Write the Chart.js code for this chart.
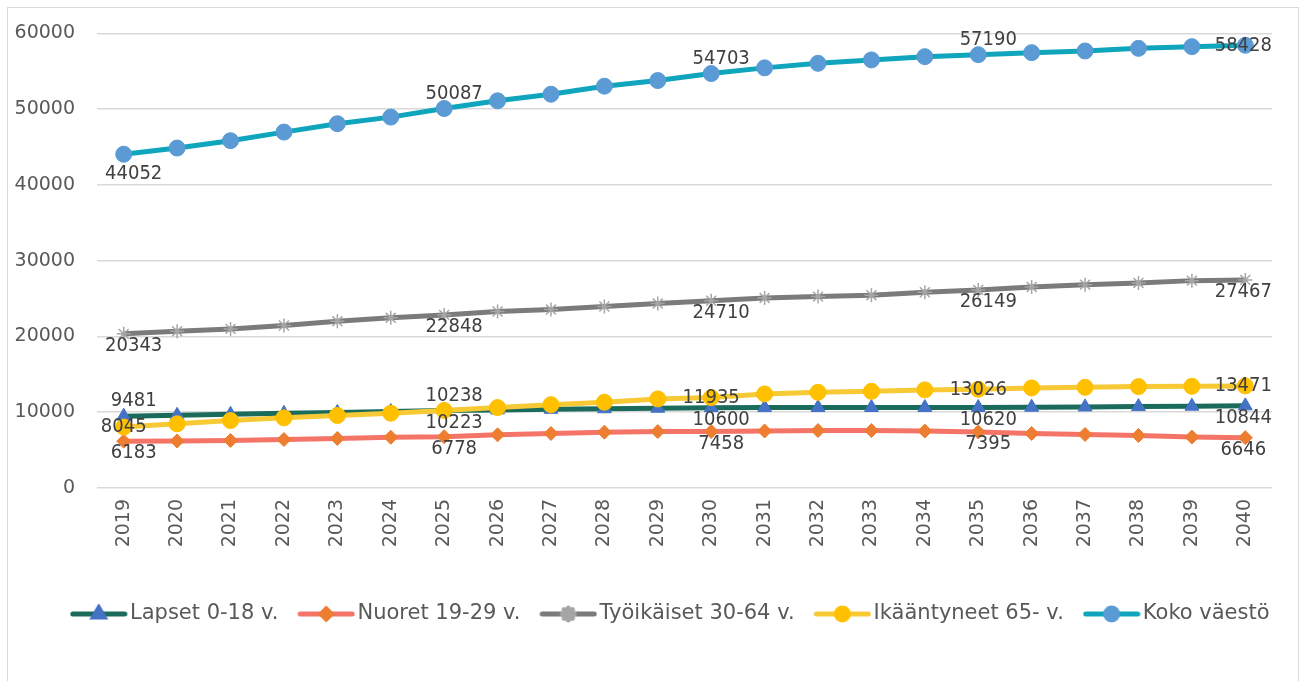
<!DOCTYPE html>
<html lang="fi">
<head>
<meta charset="UTF-8">
<title>Väestöennuste 2019-2040</title>
<script src="https://cdn.jsdelivr.net/npm/chart.js"></script>
<style>
  html, body { margin: 0; padding: 0; background: #fff; }
</style>
</head>
<body>
<canvas id="myChart" width="1304" height="681"></canvas>
<script>
// vuodet ja sarjat
const years = ['2019','2020','2021','2022','2023','2024','2025','2026','2027','2028','2029',
               '2030','2031','2032','2033','2034','2035','2036','2037','2038','2039','2040'];
const lapset = [9481, 9600, 9720, 9850, 9970, 10100, 10223, 10310, 10390, 10460, 10530,
                10600, 10610, 10615, 10620, 10620, 10620, 10660, 10700, 10750, 10800, 10844];
const nuoret = [6183, 6200, 6280, 6400, 6540, 6700, 6778, 7020, 7200, 7370, 7450,
                7458, 7520, 7580, 7580, 7510, 7395, 7200, 7070, 6930, 6720, 6646];
const tyoikaiset = [20343, 20700, 21000, 21450, 22000, 22460, 22848, 23300, 23550, 23950, 24340,
                    24710, 25090, 25260, 25450, 25840, 26149, 26540, 26840, 27070, 27370, 27467];
const ikaantyneet = [8045, 8470, 8900, 9260, 9570, 9870, 10238, 10620, 11000, 11320, 11760,
                     11935, 12420, 12630, 12760, 12950, 13026, 13210, 13290, 13380, 13420, 13471];
const kokoVaesto = [44052, 44870, 45840, 46970, 48080, 48950, 50087, 51100, 51970, 53030, 53780,
                    54703, 55450, 56050, 56500, 56930, 57190, 57460, 57680, 58030, 58250, 58428];
const seriesNames = ['Lapset 0-18 v.', 'Nuoret 19-29 v.', 'Työikäiset 30-64 v.', 'Ikääntyneet 65- v.', 'Koko väestö'];
const yMin = 0, yMax = 60000, yStep = 10000;
const labelledYears = ['2019', '2025', '2030', '2035', '2040'];

// a = yläpuolelle, b = alle, bb = kauemmas alle, c = keskelle
const labelPlaces = [
  ['a', 'b', 'b', 'b', 'b'],
  ['b', 'b', 'b', 'b', 'b'],
  ['b', 'b', 'b', 'b', 'b'],
  ['c', 'a', 'c', 'c', 'c'],
  ['bb', 'a', 'a', 'a', 'c']
];

const styles = [
  { line: '#1B6B5D', marker: 'triangle', markerColor: '#4472C4', r: 8, lr: 6 },
  { line: '#F47468', marker: 'rectRot', markerColor: '#ED7D31', r: 7, lr: 5 },
  { line: '#7B7B7B', marker: 'star', markerColor: '#A5A5A5', r: 7, lr: 6 },
  { line: '#F7C934', marker: 'circle', markerColor: '#FFC000', r: 8, lr: 6 },
  { line: '#0FA5BC', marker: 'circle', markerColor: '#5B9BD5', r: 8, lr: 6 }
];
const seriesData = [lapset, nuoret, tyoikaiset, ikaantyneet, kokoVaesto];

const labelFont = '20px "DejaVu Sans Condensed", "DejaVu Sans", sans-serif';
const axisFont = { family: '"DejaVu Sans", Verdana, sans-serif', size: 19 };
const legendFont = { family: '"DejaVu Sans", Verdana, sans-serif', size: 21 };

function legendSymbol(s) {
  const c = document.createElement('canvas');
  c.width = 58; c.height = 20;
  const g = c.getContext('2d');
  g.strokeStyle = s.line; g.lineWidth = 5; g.lineCap = 'round';
  g.beginPath(); g.moveTo(3, 10); g.lineTo(55, 10); g.stroke();
  g.fillStyle = s.markerColor; g.strokeStyle = s.markerColor;
  Chart.helpers.drawPoint(g, { pointStyle: s.marker, radius: s.lr, rotation: 0, borderWidth: 1 }, 29, 10);
  return c;
}

const frame = {
  id: 'frame',
  beforeDraw(chart) {
    const ctx = chart.ctx;
    ctx.save();
    ctx.fillStyle = '#fff';
    ctx.fillRect(0, 0, chart.width, chart.height);
    ctx.strokeStyle = '#D9D9D9';
    ctx.lineWidth = 1;
    ctx.strokeRect(7.5, 7.5, 1291, 700);
    ctx.restore();
  },
  afterLayout(chart) {
    // legenda alkaa x=70, tekstin keskikohta y=614
    const lg = chart.legend;
    const pad = lg.options.labels.padding;
    const startX = (lg.left + pad + lg.right - lg.lineWidths[0]) / 2;
    const shift = 78 - startX;
    lg.left += shift; lg.right += shift;
    const h = lg.bottom - lg.top;
    lg.top = 614 - pad - legendFont.size / 2;
    lg.bottom = lg.top + h;
  }
};

const valueLabels = {
  id: 'valueLabels',
  afterDatasetsDraw(chart) {
    const ctx = chart.ctx;
    ctx.save();
    ctx.font = labelFont;
    ctx.fillStyle = '#404040';
    ctx.textAlign = 'center';
    ctx.textBaseline = 'middle';
    chart.data.datasets.forEach((ds, di) => {
      const meta = chart.getDatasetMeta(di);
      labelledYears.forEach((yr, k) => {
        const i = years.indexOf(yr);
        const pt = meta.data[i];
        const place = labelPlaces[di][k];
        let dx = place === 'c' ? 0 : 10;
        if (i === years.length - 1) dx = -2;
        let dy = 0;
        if (place === 'a') dy = -15;
        if (place === 'b') dy = 12;
        if (place === 'bb') dy = 20;
        ctx.fillText(String(ds.data[i]), pt.x + dx, pt.y + dy);
      });
    });
    ctx.restore();
  }
};

const ctx = document.getElementById('myChart').getContext('2d');
new Chart(ctx, {
  type: 'line',
  data: {
    labels: years,
    datasets: seriesData.map((d, i) => ({
      label: seriesNames[i],
      data: d,
      borderColor: styles[i].line,
      backgroundColor: styles[i].line,
      borderWidth: 5,
      pointStyle: styles[i].marker,
      pointRadius: styles[i].r,
      pointBackgroundColor: styles[i].markerColor,
      pointBorderColor: styles[i].markerColor,
      pointBorderWidth: styles[i].marker === 'star' ? 1.5 : 1,
      tension: 0,
      clip: false,
      order: seriesData.length - i
    }))
  },
  options: {
    responsive: false,
    animation: false,
    devicePixelRatio: 1,
    layout: { padding: { top: 32, right: 32, bottom: 51, left: 0 } },
    plugins: {
      tooltip: { enabled: false },
      legend: {
        position: 'bottom',
        maxHeight: 50,
        labels: {
          usePointStyle: true,
          pointStyleWidth: 41.5,
          padding: 27,
          color: '#595959',
          font: legendFont,
          generateLabels: (chart) => chart.data.datasets.map((ds, i) => ({
            text: ds.label,
            pointStyle: legendSymbol(styles[i]),
            fillStyle: styles[i].line,
            strokeStyle: styles[i].line,
            lineWidth: 0,
            fontColor: '#595959',
            hidden: false,
            datasetIndex: i
          }))
        }
      }
    },
    scales: {
      x: {
        offset: true,
        grid: { display: false, drawTicks: false },
        border: { display: false },
        ticks: { color: '#595959', font: axisFont, minRotation: 90, maxRotation: 90, padding: 11 },
        afterFit: (s) => { s.height = 92; }
      },
      y: {
        min: yMin, max: yMax,
        grid: { color: '#D9D9D9', lineWidth: 1.5, drawTicks: false },
        border: { display: false },
        ticks: { stepSize: yStep, color: '#595959', font: axisFont, padding: 22, callback: (v) => String(v) },
        afterFit: (s) => { s.width = 97; }
      }
    }
  },
  plugins: [frame, valueLabels]
});
</script>
</body>
</html>
